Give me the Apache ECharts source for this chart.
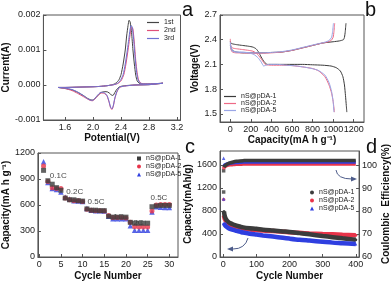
<!DOCTYPE html>
<html><head><meta charset="utf-8">
<script src="https://cdn.jsdelivr.net/npm/echarts@6/dist/echarts.min.js"></script>
<style>html,body{margin:0;padding:0;background:#fff}#c{width:392px;height:284px}</style>
</head><body><div id="c"></div>
<script>
// ---------- tick labels ----------
const aXTicks = [1.6, 2.0, 2.4, 2.8, 3.2];
const aYTicks = [-0.001, 0, 0.001, 0.002];
const bXTicks = [0, 200, 400, 600, 800, 1000, 1200];
const bYTicks = [1.5, 1.8, 2.1, 2.4, 2.7];
const cXTicks = [0, 5, 10, 15, 20, 25, 30];
const cYTicks = [0, 300, 600, 900, 1200];
const dXTicks = [0, 100, 200, 300, 400];
const dYTicks = [0, 400, 800, 1200, 1600];
const dY2Ticks = [60, 70, 80, 90, 100];

// ---------- panel a : CV ----------
const cvNames = ['1st', '2nd', '3rd'];
const cv1V = [1.5,1.6,1.8,2.0,2.1,2.2,2.28,2.33,2.37,2.40,2.43,2.46,2.48,2.50,2.515,2.53,2.55,2.57,2.59,2.61,2.63,2.66,2.7,2.8,2.9,3.0,
              2.9,2.8,2.6,2.45,2.38,2.34,2.31,2.29,2.27,2.25,2.21,2.16,2.11,2.06,2.02,1.99,1.96,1.92,1.86,1.78,1.7,1.6,1.5];
const cv1I = [-0.00007,-0.00007,-0.00006,-0.00005,-0.00004,-0.00002,0.00001,0.00006,0.00015,0.0003,0.0006,0.001,0.0014,0.0017,0.00185,0.0018,0.0015,0.001,0.0006,0.00028,0.00012,0.00005,0.00003,0.00003,0.00004,0.00005,
              0.00003,0.00001,0,-0.00002,-0.00005,-0.00012,-0.00022,-0.00029,-0.0003,-0.00026,-0.0002,-0.00019,-0.00022,-0.00032,-0.0004,-0.00043,-0.00042,-0.00038,-0.0003,-0.00021,-0.00014,-0.0001,-0.00007];
const cv2V = [1.5,1.6,1.8,2.0,2.1,2.2,2.3,2.36,2.40,2.44,2.47,2.50,2.52,2.54,2.555,2.57,2.59,2.61,2.63,2.65,2.68,2.72,2.8,2.9,3.0,
              2.9,2.8,2.6,2.45,2.38,2.34,2.31,2.29,2.27,2.25,2.23,2.2,2.16,2.11,2.06,2.02,1.99,1.96,1.92,1.86,1.78,1.7,1.6,1.5];
const cv2I = [-0.00007,-0.00007,-0.00006,-0.00005,-0.00004,-0.00002,0.00001,0.00005,0.00012,0.0003,0.0006,0.001,0.0013,0.0016,0.00165,0.0016,0.0012,0.0007,0.00035,0.00015,0.00006,0.00003,0.00003,0.00004,0.00005,
              0.00003,0.00001,0,-0.00003,-0.00007,-0.0002,-0.0004,-0.0006,-0.0007,-0.00065,-0.0005,-0.00032,-0.00024,-0.00023,-0.00032,-0.00041,-0.00045,-0.00044,-0.0004,-0.00033,-0.00024,-0.00016,-0.0001,-0.00007];
const cv3V = [1.5,1.6,1.8,2.0,2.1,2.2,2.3,2.35,2.39,2.43,2.46,2.49,2.51,2.53,2.545,2.56,2.58,2.60,2.62,2.64,2.67,2.72,2.8,2.9,3.0,
              2.9,2.8,2.6,2.45,2.38,2.34,2.31,2.29,2.27,2.25,2.23,2.2,2.16,2.11,2.06,2.02,1.99,1.96,1.92,1.86,1.78,1.7,1.6,1.5];
const cv3I = [-0.00007,-0.00007,-0.00006,-0.00005,-0.00004,-0.00002,0.00001,0.00005,0.00013,0.0003,0.0006,0.001,0.0013,0.0016,0.0017,0.00165,0.0013,0.0008,0.0004,0.00017,0.00006,0.00003,0.00003,0.00004,0.00005,
              0.00003,0.00001,0,-0.00003,-0.00006,-0.00019,-0.00038,-0.00058,-0.00068,-0.00063,-0.00048,-0.0003,-0.00022,-0.00021,-0.0003,-0.0004,-0.00044,-0.00043,-0.00039,-0.0003,-0.0002,-0.00013,-0.00009,-0.00007];

// ---------- panel b : charge / discharge ----------
const sampleNames = ['nS@pDA-1', 'nS@pDA-2', 'nS@pDA-5'];
const b1DisCap = [0,5,20,60,120,180,220,250,275,300,330,360,400,500,600,700,800,900,980,1030,1070,1095,1110,1120,1128,1133];
const b1DisV   = [2.38,2.36,2.35,2.34,2.33,2.32,2.31,2.29,2.25,2.19,2.13,2.1,2.1,2.1,2.1,2.1,2.095,2.09,2.08,2.06,2.02,1.95,1.85,1.72,1.6,1.52];
const b2DisCap = [0,5,20,60,120,180,220,250,280,310,340,400,500,600,700,800,860,920,960,985,1000,1008,1012];
const b2DisV   = [2.41,2.33,2.3,2.29,2.28,2.27,2.26,2.24,2.2,2.15,2.1,2.09,2.09,2.085,2.07,2.05,2.02,1.95,1.85,1.75,1.65,1.57,1.52];
const b5DisCap = [0,5,20,60,120,180,230,270,300,325,345,380,450,550,650,750,850,920,960,985,1000,1005,1008];
const b5DisV   = [2.37,2.3,2.26,2.25,2.25,2.24,2.22,2.18,2.13,2.08,2.09,2.1,2.1,2.09,2.08,2.06,2.03,1.97,1.88,1.77,1.65,1.57,1.52];
const b1ChCap  = [0,20,60,120,200,300,400,500,600,700,800,900,1000,1060,1100,1110,1118,1122,1125];
const b1ChV    = [2.33,2.27,2.25,2.24,2.24,2.24,2.245,2.25,2.27,2.3,2.33,2.36,2.375,2.385,2.4,2.43,2.5,2.56,2.6];
const b2ChCap  = [0,20,60,120,200,300,400,500,600,700,800,880,940,980,1000,1008,1012,1015];
const b2ChV    = [2.3,2.25,2.24,2.24,2.235,2.235,2.24,2.25,2.27,2.3,2.33,2.355,2.37,2.39,2.43,2.5,2.56,2.6];
const b5ChCap  = [0,20,60,120,200,300,400,500,600,700,800,870,920,960,985,995,1000,1003];
const b5ChV    = [2.35,2.27,2.25,2.245,2.24,2.24,2.245,2.255,2.275,2.305,2.335,2.355,2.37,2.39,2.43,2.5,2.56,2.6];

// ---------- panel c : rate ----------
const cCycles = [1,2,3,4,5,6,7,8,9,10,11,12,13,14,15,16,17,18,19,20,21,22,23,24,25,26,27,28,29,30];
const c1 = [1000,880,840,800,770,680,660,660,650,645,555,540,540,535,535,470,460,460,460,460,400,390,390,390,390,580,590,595,595,595];
const c2 = [1050,870,800,790,790,680,660,650,650,640,550,540,535,535,530,480,455,455,455,450,400,350,345,345,345,530,600,605,605,605];
const c5 = [1100,860,790,780,750,690,670,650,645,640,560,540,535,535,530,470,440,440,440,440,360,310,310,310,310,520,580,575,570,570];
const rateLabels = ['0.1C', '0.2C', '0.5C', '1C', '2C', '0.5C'];
const rateLabelX = [4.4, 8.2, 13.1, 18.3, 22.9, 27.6];
const rateLabelY = [940, 750, 635, 462, 392, 680];

// ---------- panel d : cycling ----------
const dCycles = [2,3,4,5,7,10,15,20,30,40,50,60,80,100,120,150,180,200,230,260,300,330,360,400];
const dCap1 = [790,750,720,700,670,640,610,590,565,545,530,515,500,490,475,460,445,435,415,395,365,345,325,300];
const dCap2 = [720,690,670,655,635,610,580,560,535,520,505,495,480,470,460,450,440,430,420,410,400,395,388,380];
const dCap5 = [590,575,565,555,540,525,505,490,470,455,440,425,405,390,375,355,335,320,300,285,265,250,240,225];
const dEff1 = [99.0,99.3,99.5,99.7,99.9,100.2,100.6,100.9,101.3,101.6,101.8,101.9,102.0,102.0,102.0,102.0,102.0,102.0,102.0,102.0,102.0,102.0,102.0,102.0];
const dEff2 = [98.8,99.0,99.2,99.4,99.6,99.8,100.0,100.1,100.2,100.3,100.3,100.4,100.4,100.4,100.4,100.4,100.4,100.4,100.4,100.4,100.4,100.4,100.4,100.4];
const dEff5 = [99.5,99.7,99.9,100.0,100.2,100.4,100.6,100.8,101.0,101.1,101.2,101.3,101.3,101.3,101.3,101.3,101.3,101.3,101.3,101.3,101.3,101.3,101.3,101.3];
const dFirstCap = [1130, 1000, 1010];
const dFirstEff = [97.5, 98.7, 102.9];

// ---------- build ----------
const zip = (a, b) => a.map((v, i) => [v, b[i]]);
const FONT = "'Liberation Sans', Arial, sans-serif";
const NARROW = "'Liberation Sans Narrow', 'Liberation Sans', Arial, sans-serif";
const axisCol = '#555';
const blk = '#3c3c3c', red = '#e8344a', blu = '#2f3fe0';

function xAx(gi, min, max, ticks, fmt, name, gap) {
  return {
    type: 'value', gridIndex: gi, min: min, max: max,
    name: name, nameLocation: 'middle', nameGap: gap,
    nameTextStyle: {fontFamily: NARROW, fontWeight: 'bold', fontSize: 10, color: '#111'},
    axisLine: {show: true, onZero: false, lineStyle: {color: axisCol, width: 1}},
    axisTick: {show: true, inside: true, length: 3, customValues: ticks, lineStyle: {color: axisCol}},
    axisLabel: {customValues: ticks, formatter: fmt, fontFamily: NARROW, fontSize: 9, color: '#222', margin: 3},
    splitLine: {show: false}
  };
}
function yAx(gi, min, max, ticks, fmt, name, gap, pos) {
  const o = xAx(gi, min, max, ticks, fmt, name, gap);
  o.position = pos || 'left'; o.nameRotate = 90;
  return o;
}
const lineIcon = 'path://M0,0H10V1H0Z';
const lineSer = (name, xi, yi, data, color, w) => ({
  name: name, type: 'line', xAxisIndex: xi, yAxisIndex: yi, data: data,
  showSymbol: false, smooth: 0.2, lineStyle: {color: color, width: w || 1}, itemStyle: {color: color}, z: 3
});

const series = [];
const cvColors = ['#454545', '#e0507a', '#6f72d2'];
[[cv1V, cv1I], [cv2V, cv2I], [cv3V, cv3I]].forEach((p, i) => series.push(lineSer(cvNames[i], 0, 0, zip(p[0], p[1]), cvColors[i], 1)));
const bColors = ['#3a3a3a', '#ee6a86', '#9aa6e6'];
[[b1DisCap, b1DisV, b1ChCap, b1ChV], [b2DisCap, b2DisV, b2ChCap, b2ChV], [b5DisCap, b5DisV, b5ChCap, b5ChV]].forEach((p, i) => {
  series.push(lineSer(sampleNames[i], 1, 1, zip(p[0], p[1]), bColors[i], 1));
  series.push(lineSer(sampleNames[i], 1, 1, zip(p[2], p[3]), bColors[i], 1));
});
const cSyms = ['rect', 'circle', 'triangle'];
const cCols = [blk, red, blu];
[c1, c2, c5].forEach((arr, i) => series.push({
  name: sampleNames[i], type: 'scatter', xAxisIndex: 2, yAxisIndex: 2, data: zip(cCycles, arr),
  symbol: cSyms[i], symbolSize: i === 2 ? 5.5 : 5, itemStyle: {color: cCols[i]}, z: 5 - i
}));
series.push({
  name: 'rateText', type: 'scatter', xAxisIndex: 2, yAxisIndex: 2, symbolSize: 1, itemStyle: {color: 'rgba(0,0,0,0)'}, silent: true,
  data: zip(rateLabelX, rateLabelY),
  label: {show: true, position: 'inside', formatter: p => rateLabels[p.dataIndex], fontFamily: FONT, fontSize: 8, color: '#111'}
});
[1, 0, 2].forEach((k, j) => {
  series.push({
    name: sampleNames[k], type: 'line', xAxisIndex: 3, yAxisIndex: 3, data: zip(dCycles, [dCap1, dCap2, dCap5][k]),
    showSymbol: true, symbol: k === 2 ? 'triangle' : 'circle', symbolSize: 3, smooth: 0.3,
    lineStyle: {color: cCols[k], width: 4.5}, itemStyle: {color: cCols[k]}, z: 3 + j
  });
});
[1, 2, 0].forEach((k, j) => {
  series.push({
    name: sampleNames[k], type: 'line', xAxisIndex: 3, yAxisIndex: 4, data: zip(dCycles, [dEff1, dEff2, dEff5][k]),
    showSymbol: false, smooth: 0.3, lineStyle: {color: cCols[k], width: 3.5}, itemStyle: {color: cCols[k]}, z: 3 + j
  });
});
[0, 1, 2].forEach(i => {
  series.push({name: sampleNames[i], type: 'scatter', xAxisIndex: 3, yAxisIndex: 3, symbol: cSyms[i], symbolSize: 3.5,
    itemStyle: {color: cCols[i]}, data: [[1, dFirstCap[i]]]});
  series.push({name: sampleNames[i], type: 'scatter', xAxisIndex: 3, yAxisIndex: 4, symbol: cSyms[i], symbolSize: 3.5,
    itemStyle: {color: cCols[i]}, data: [[1, dFirstEff[i]]]});
});

const base = {
  animation: false,
  backgroundColor: '#fff',
  grid: [
    {left: 39, top: 15, width: 141.5, height: 105, show: true, borderColor: axisCol, borderWidth: 1},
    {left: 220, top: 15, width: 144, height: 107, show: true, borderColor: axisCol, borderWidth: 1},
    {left: 37, top: 153, width: 141, height: 104, show: true, borderColor: axisCol, borderWidth: 1},
    {left: 220, top: 151, width: 141, height: 106, show: true, borderColor: axisCol, borderWidth: 1}
  ],
  xAxis: [
    xAx(0, 1.29, 3.25, aXTicks, v => v.toFixed(1), 'Potential(V)', 11),
    xAx(1, -100, 1300, bXTicks, v => String(v), 'Capacity(mA h g\u207B\u00B9)', 11),
    xAx(2, -0.3, 32, cXTicks, v => String(v), 'Cycle Number', 14),
    xAx(3, -10, 410, dXTicks, v => String(v), 'Cycle Number', 14)
  ],
  yAxis: [
    yAx(0, -0.001, 0.002, aYTicks, v => v.toFixed(3), 'Current(A)', 25),
    yAx(1, 1.4, 2.7, bYTicks, v => v.toFixed(1), 'Voltage(V)', 18),
    yAx(2, 0, 1200, cYTicks, v => String(v), 'Capacity(mA h g\u207B\u00B9)', 22),
    yAx(3, 0, 1843, dYTicks, v => String(v), 'Capacity(mAh/g)', 23),
    yAx(3, 60, 106.1, dY2Ticks, v => String(v), 'Coulombic  Efficiency(%)', 15, 'right')
  ],
  series: series
};
const legendText = {fontFamily: FONT, fontSize: 7, color: '#222', lineHeight: 7};
const legends = [
  {orient: 'vertical', left: 147, top: 19, itemWidth: 12, itemHeight: 2, itemGap: 1, padding: 0, textStyle: legendText,
   data: cvNames.map((n, i) => ({name: n, icon: lineIcon, itemStyle: {color: cvColors[i]}}))},
  {orient: 'vertical', left: 224, top: 93, itemWidth: 12, itemHeight: 2, itemGap: 0, padding: 0, textStyle: legendText,
   data: sampleNames.map((n, i) => ({name: n, icon: lineIcon, itemStyle: {color: bColors[i]}}))},
  {orient: 'vertical', left: 137, top: 155, itemWidth: 4, itemHeight: 4, itemGap: 1, padding: 0, textStyle: legendText,
   data: sampleNames.map((n, i) => ({name: n, icon: cSyms[i], itemStyle: {color: cCols[i]}}))},
  {orient: 'vertical', left: 310, top: 189, itemWidth: 4, itemHeight: 4, itemGap: 1, padding: 0, textStyle: legendText,
   data: sampleNames.map((n, i) => ({name: n, icon: i === 2 ? 'triangle' : 'circle', itemStyle: {color: cCols[i]}}))}
];
const graphics = [
  {type: 'text', left: 182, top: 0, style: {text: 'a', font: '20px ' + FONT, fill: '#111'}},
  {type: 'text', left: 365, top: 0, style: {text: 'b', font: '20px ' + FONT, fill: '#111'}},
  {type: 'text', left: 185, top: 137, style: {text: 'c', font: '20px ' + FONT, fill: '#111'}},
  {type: 'text', left: 366, top: 137, style: {text: 'd', font: '20px ' + FONT, fill: '#111'}},
  {type: 'bezierCurve', shape: {x1: 336, y1: 170, cpx1: 337, cpy1: 179, x2: 352, y2: 179}, style: {stroke: '#4d5c8a', lineWidth: 1, fill: null}},
  {type: 'polygon', shape: {points: [[357, 179], [351, 176.5], [351, 181.5]]}, style: {fill: '#4d5c8a'}},
  {type: 'bezierCurve', shape: {x1: 248, y1: 238, cpx1: 245, cpy1: 249, x2: 233, y2: 249}, style: {stroke: '#4d5c8a', lineWidth: 1, fill: null}},
  {type: 'polygon', shape: {points: [[227, 249], [233, 246.5], [233, 251.5]]}, style: {fill: '#4d5c8a'}}
];
const chart = echarts.init(document.getElementById('c'), null, {width: 392, height: 284});
try { chart.setOption(base); } catch (e) {}
try { chart.setOption({legend: legends}); } catch (e) {}
try { chart.setOption({graphic: graphics}); } catch (e) {}
</script></body></html>
